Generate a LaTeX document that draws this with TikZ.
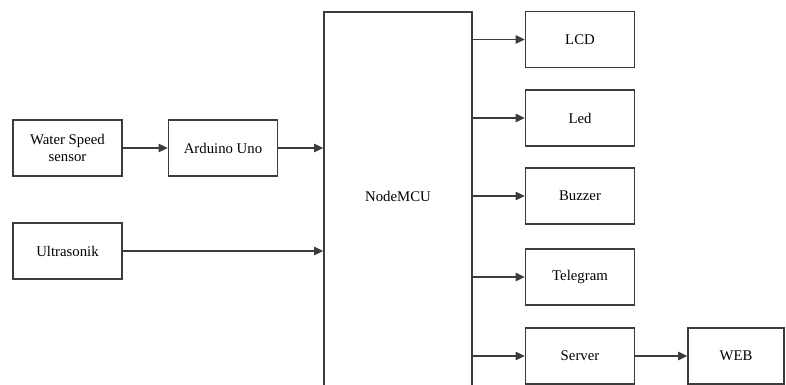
\documentclass[tikz,border=0pt]{standalone}
\usepackage{fontspec}
\setmainfont{Liberation Serif}
\usepackage{tikz}
\usetikzlibrary{arrows.meta, positioning, calc}
\definecolor{myline}{RGB}{60, 60, 60}

\tikzset{
  block/.style={draw=myline, line width=1.1pt, fill=white, minimum width=2.725cm, minimum height=1.4cm, align=center, font=\fontsize{10.5}{12}\selectfont},
  link/.style={draw=myline, line width=1.1pt, -{Triangle[length=6.5pt, width=6pt]}}
}

\begin{document}
\begin{tikzpicture}[x=0.025cm, y=-0.025cm]
                \useasboundingbox (0,0) rectangle (786,385);
                % Inputs
                \node[block] (water) at (67.5,148) {Water Speed\\sensor};
                \node[block] (arduino) at (223,148) {Arduino Uno};
                \node[block] (ultra) at (67.5,251) {Ultrasonik};
                % Controller
                \node[block, minimum width=3.7cm, minimum height=9.45cm] (mcu) at (398,201) {};
                \node[font=\fontsize{10.5}{12}\selectfont] (mculabel) at (398,196) {NodeMCU};
                % Outputs
                \node[block] (lcd) at (580,39.5) {LCD};
                \node[block] (led) at (580,118) {Led};
                \node[block] (buzzer) at (580,196) {Buzzer};
                \node[block] (telegram) at (580,277) {Telegram};
                \node[block] (server) at (580,356) {Server};
                \node[block, minimum width=2.4cm] (web) at (736,356) {WEB};
                % Arrows
                \draw[link] (water) -- (arduino);
                \draw[link] (arduino) -- (arduino -| mcu.west);
                \draw[link] (ultra) -- (ultra -| mcu.west);
                \foreach \out in {lcd, led, buzzer, telegram, server}
                  \draw[link] (\out -| mcu.east) -- (\out);
                \draw[link] (server) -- (web);
            \end{tikzpicture}
\end{document}
